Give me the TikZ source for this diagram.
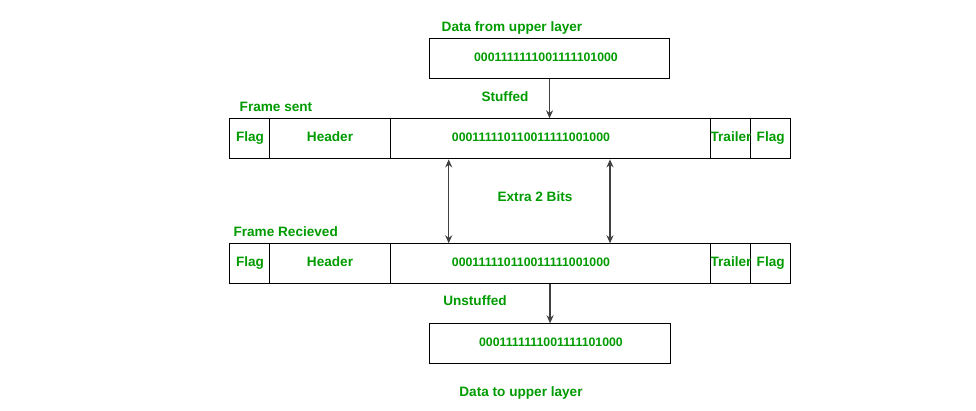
\documentclass[tikz,border=0pt]{standalone}
\usepackage{fontspec}
\setmainfont{Liberation Sans}
\usetikzlibrary{arrows.meta,calc}
\definecolor{tgreen}{RGB}{0,155,0}
\begin{document}
\begin{tikzpicture}[x=1pt,y=-1pt,
  cell/.style={draw=black, line width=1.1pt, minimum height=40pt, inner sep=0pt, anchor=north west, rectangle},
  txt/.style={text=tgreen, font=\bfseries\fontsize{13.6}{15}\selectfont, inner sep=0pt, text height=9.7pt, text depth=0pt},
  num/.style={txt, font=\bfseries\fontsize{12.3}{14}\selectfont, text height=8.8pt},
  arr/.style={draw=black!75, line width=1.2pt, -{Stealth[length=8pt,width=7pt]}},
  darr/.style={draw=black!75, line width=1.2pt, {Stealth[length=8pt,width=7pt]}-{Stealth[length=8pt,width=7pt]}}]
\useasboundingbox (0,0) rectangle (976,411);

% top box
\node[txt] (toplbl) at (512,26.7) {Data from upper layer};
\node[cell, minimum width=240pt] (top) at (429,38.3) {};
\node[num] (toptxt) at (546,56.7) {0001111111001111101000};

\node[txt] (stuffed) at (505,96.7) {Stuffed};
\node[txt] (fsent) at (276,106.7) {Frame sent};

% frame sent row
\node[cell, minimum width=40pt] (sflag1) at (229.3,118.3) {};
\node[cell, minimum width=120.7pt] (shead) at (269.3,118.3) {};
\node[cell, minimum width=320pt] (sdata) at (390,118.3) {};
\node[cell, minimum width=40pt] (strail) at (710,118.3) {};
\node[cell, minimum width=40pt] (sflag2) at (750,118.3) {};
\node[txt] (sflag1t) at (250,136.7) {Flag};
\node[txt] (sheadt) at (330,136.7) {Header};
\node[num] (sdatat) at (531,136.7) {000111110110011111001000};
\node[txt] (strailt) at (731,136.7) {Trailer};
\node[txt] (sflag2t) at (770.7,136.7) {Flag};

\node[txt] (extra) at (535,197) {Extra 2 Bits};
\node[txt] (frecv) at (285.7,231.7) {Frame Recieved};

% frame received row
\node[cell, minimum width=40pt] (rflag1) at (229.3,243.3) {};
\node[cell, minimum width=120.7pt] (rhead) at (269.3,243.3) {};
\node[cell, minimum width=320pt] (rdata) at (390,243.3) {};
\node[cell, minimum width=40pt] (rtrail) at (710,243.3) {};
\node[cell, minimum width=40pt] (rflag2) at (750,243.3) {};
\node[txt] (rflag1t) at (250,261.7) {Flag};
\node[txt] (rheadt) at (330,261.7) {Header};
\node[num] (rdatat) at (531,261.7) {000111110110011111001000};
\node[txt] (rtrailt) at (731,261.7) {Trailer};
\node[txt] (rflag2t) at (770.7,261.7) {Flag};

\node[txt] (unstuffed) at (475,301) {Unstuffed};

% bottom box
\node[cell, minimum width=241pt] (bot) at (429,323.3) {};
\node[num] (bottxt) at (551,341.7) {0001111111001111101000};
\node[txt] (botlbl) at (521,391.7) {Data to upper layer};

% connectors
\draw[arr] (top.south) -- (top.south |- sdata.north);
\draw[arr] (bot.north |- rdata.south) -- (bot.north);
\coordinate (e1) at (448.7,0);
\coordinate (e2) at (610,0);
\draw[darr] (e1 |- sdata.south) -- (e1 |- rdata.north);
\draw[darr] (e2 |- sdata.south) -- (e2 |- rdata.north);
\end{tikzpicture}
\end{document}
